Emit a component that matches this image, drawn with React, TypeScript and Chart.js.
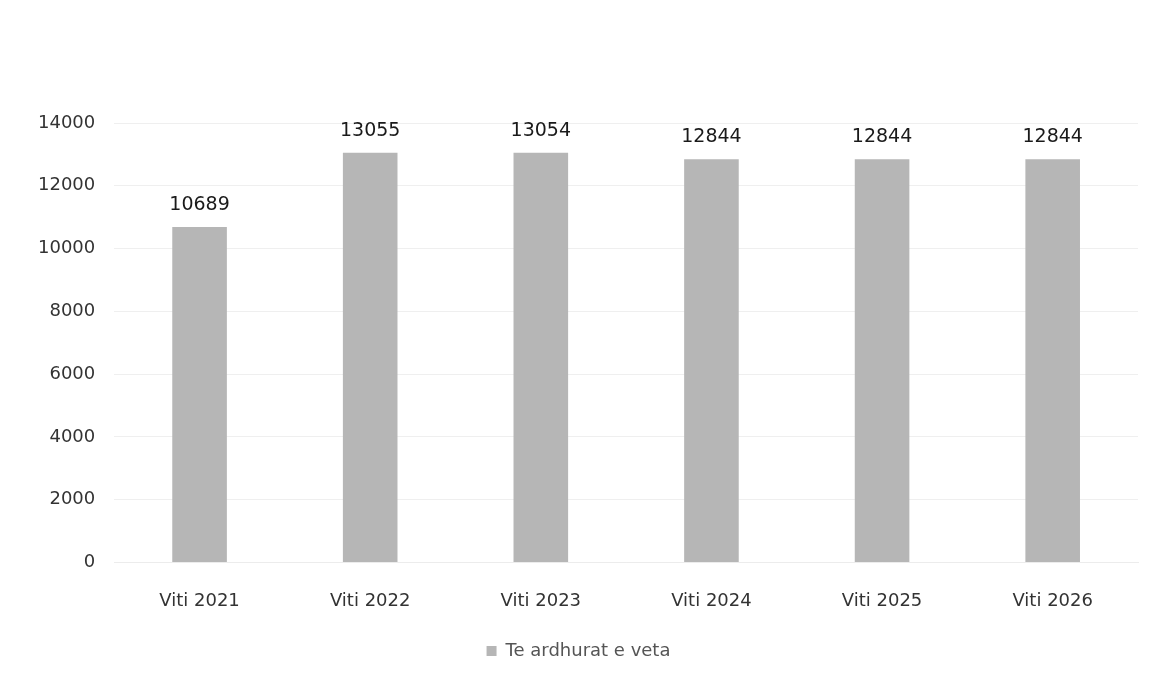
import React, { useEffect, useRef } from "react";
import { Chart, registerables } from "chart.js";

Chart.register(...registerables);

const categories = ["Viti 2021", "Viti 2022", "Viti 2023", "Viti 2024", "Viti 2025", "Viti 2026"];
const values = [10689, 13055, 13054, 12844, 12844, 12844];
const seriesName = "Te ardhurat e veta";
const yTicks = [0, 2000, 4000, 6000, 8000, 10000, 12000, 14000];

const valueLabels = {
  id: "valueLabels",
  afterDatasetsDraw(chart: any) {
    const ctx = chart.ctx;
    const meta = chart.getDatasetMeta(0);
    ctx.save();
    ctx.font = "19px 'DejaVu Sans'";
    ctx.fillStyle = "#1a1a1a";
    ctx.textAlign = "center";
    ctx.textBaseline = "middle";
    meta.data.forEach((bar: any, i: number) => {
      ctx.fillText(String(values[i]), bar.x, bar.y - 22);
    });
    ctx.restore();
  },
};

export default function App() {
  const ref = useRef<HTMLCanvasElement>(null);
  useEffect(() => {
    if (!ref.current) return;
    const chart = new Chart(ref.current, {
      type: "bar",
      data: {
        labels: categories,
        datasets: [
          {
            label: seriesName,
            data: values,
            backgroundColor: "#b6b6b6",
            barPercentage: 0.64,
            categoryPercentage: 0.5,
          },
        ],
      },
      options: {
        animation: false,
        responsive: true,
        maintainAspectRatio: false,
        layout: { padding: { top: 123, left: 19, right: 16, bottom: 16 } },
        scales: {
          x: {
            grid: { display: false, drawTicks: false },
            border: { display: true, color: "#ececec" },
            ticks: { font: { family: "'DejaVu Sans'", size: 18 }, color: "#333", padding: 28 },
          },
          y: {
            min: 0,
            max: 14000,
            afterBuildTicks: (axis: any) => {
              axis.ticks = yTicks.map((v) => ({ value: v }));
            },
            grid: { color: "#efefef", drawTicks: false },
            border: { display: false },
            ticks: {
              font: { family: "'DejaVu Sans'", size: 18 },
              color: "#333",
              padding: 19,
              callback: (v: any) => String(v),
            },
          },
        },
        plugins: {
          legend: {
            position: "bottom",
            labels: {
              font: { family: "'DejaVu Sans'", size: 18 },
              color: "#555",
              boxWidth: 10,
              boxHeight: 10,
              padding: 2,
            },
          },
          tooltip: { enabled: false },
        },
      },
      plugins: [valueLabels],
    });
    return () => chart.destroy();
  }, []);
  return (
    <div style={{ position: "fixed", left: 0, top: 0, width: 1154, height: 686, background: "#fff" }}>
      <canvas ref={ref} />
    </div>
  );
}
